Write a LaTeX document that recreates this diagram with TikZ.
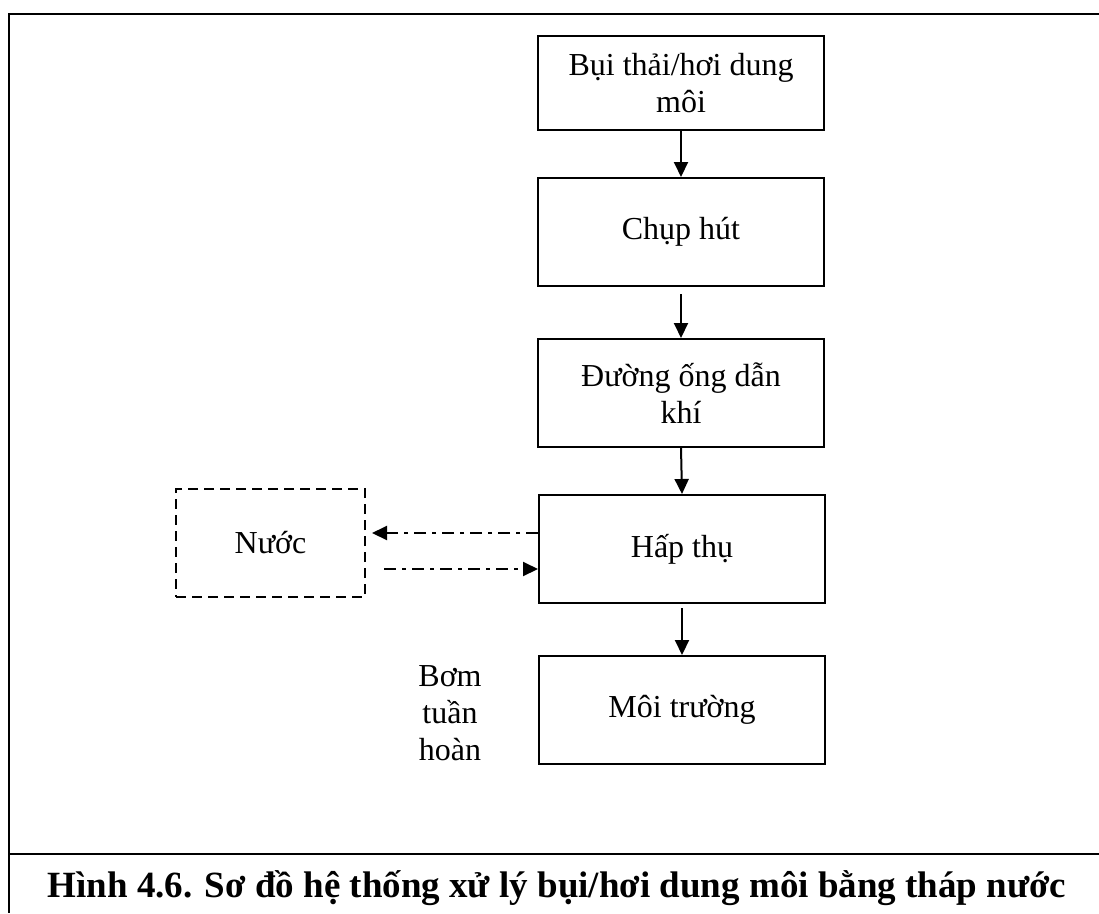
\documentclass[tikz,border=0pt]{standalone}
\usepackage{fontspec}
\setmainfont{Liberation Serif}
\usetikzlibrary{arrows.meta,calc}

\begin{document}
\begin{tikzpicture}[x=1pt,y=-1pt,
  every node/.style={font=\fontsize{32}{37}\selectfont, align=center},
  stepbox/.style={draw, line width=2pt, minimum width=286pt, inner sep=0pt},
  waterbox/.style={draw, line width=2pt, dash pattern=on 10pt off 6pt,
                   minimum width=189pt, minimum height=108pt, inner sep=0pt},
  flow/.style={line width=2pt, -{Triangle[width=14pt,length=15pt]}},
  loop/.style={flow, dash pattern=on 12pt off 6pt on 4pt off 6pt},
  frameline/.style={line width=2.2pt}
]
\useasboundingbox (0,0) rectangle (1099,913);

% outer frame and caption rule
\draw[frameline] (1099,14) -- (9,14) -- (9,913);
\draw[frameline] (9,854) -- (1099,854);

% process chain
\node[stepbox, minimum height=94pt]  (bui)   at (681,83)  {Bụi thải/hơi dung\\môi};
\node[stepbox, minimum height=108pt] (chup)  at (681,232) {Chụp hút};
\node[stepbox, minimum height=108pt] (ong)   at (681,393) {Đường ống dẫn\\khí};
\node[stepbox, minimum height=108pt] (hap)   at (682,549) {Hấp thụ};
\node[stepbox, minimum height=108pt] (moi)   at (682,710) {Môi trường};

% water loop
\node[waterbox] (nuoc) at (270.5,543) {Nước};
\node (bom) at (450,713) {Bơm\\tuần\\hoàn};

\draw[flow] (bui.south) -- (chup.north);
\draw[flow] ([yshift=-7pt]chup.south) -- (ong.north);
\draw[flow] (ong.south) -- (hap.north);
\draw[flow] ([yshift=-4pt]hap.south) -- (moi.north);

\draw[loop] ([yshift=16pt]hap.west) -- ([yshift=10pt,xshift=6pt]nuoc.east);
\draw[loop] ([yshift=-26pt,xshift=18pt]nuoc.east) -- ([yshift=-20pt]hap.west);

% caption
\node[anchor=base, font=\fontsize{37}{44}\selectfont\bfseries] (cap) at (557,897)
  {Hình 4.6. Sơ đồ hệ thống xử lý bụi/hơi dung môi bằng tháp nước};
\end{tikzpicture}
\end{document}
